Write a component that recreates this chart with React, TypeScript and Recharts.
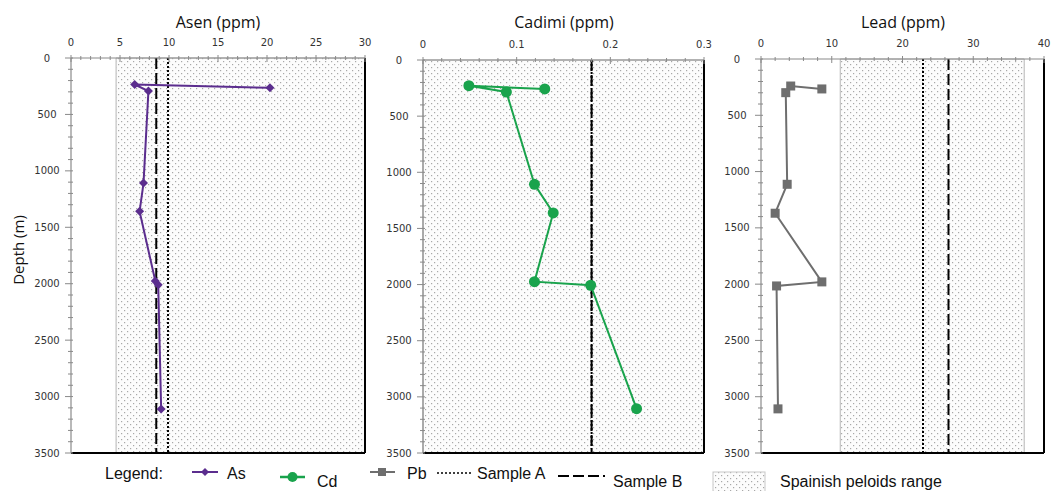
import React from 'react';
import { LineChart, Line, XAxis, YAxis, ReferenceLine, ReferenceArea } from 'recharts';

// ---- data ----
const depthTicks = [0, 500, 1000, 1500, 2000, 2500, 3000, 3500];
const depthLabels = ['0', '500', '1000', '1500', '2000', '2500', '3000', '3500'];

const asTicks = [0, 5, 10, 15, 20, 25, 30];
const asTickLabels = ['0', '5', '10', '15', '20', '25', '30'];
const cdTicks = [0, 0.1, 0.2, 0.3];
const cdTickLabels = ['0', '0.1', '0.2', '0.3'];
const pbTicks = [0, 10, 20, 30, 40];
const pbTickLabels = ['0', '10', '20', '30', '40'];

const asDepth = [264, 235, 293, 1108, 1359, 1975, 2010, 3110];
const asValue = [20.3, 6.5, 7.9, 7.4, 7.0, 8.6, 8.9, 9.2];
const cdDepth = [258, 229, 285, 1107, 1362, 1974, 2006, 3105];
const cdValue = [0.13, 0.049, 0.089, 0.119, 0.139, 0.119, 0.179, 0.228];
const pbDepth = [266, 240, 299, 1113, 1370, 1980, 2016, 3108];
const pbValue = [8.6, 4.2, 3.5, 3.7, 2.0, 8.6, 2.2, 2.4];

const asRange = [4.6, 30];
const cdRange = [0, 0.3];
const pbRange = [11.2, 37.2];

const asSampleA = 9.9;
const asSampleB = 8.7;
const cdSampleA = 0.18;
const cdSampleB = 0.18;
const pbSampleA = 22.9;
const pbSampleB = 26.5;

const COLORS = { as: '#5b2d8e', cd: '#19a34c', pb: '#6e6e6e' };

const minorTicks = (max: number, step: number) => {
  const out: number[] = [];
  const n = Math.round(max / step);
  for (let i = 0; i <= n; i++) out.push(Math.round(i * step * 1e6) / 1e6);
  return out;
};

const findMajor = (majors: number[], v: number) => majors.findIndex((m) => Math.abs(m - v) < 1e-6);

const XTick = (props: any) => {
  const { x, y, payload, majors, labels } = props;
  const idx = findMajor(majors, payload.value);
  const major = idx >= 0;
  return (
    <g>
      <line x1={x} x2={x} y1={major ? y - 3 : y - 2} y2={major ? y + 4 : y + 2} stroke="#8a8a8a" strokeWidth={1} />
      {major && (
        <text x={x} y={y - 12} textAnchor="middle" fontSize={10} fontFamily="DejaVu Sans" fill="#333">
          {labels[idx]}
        </text>
      )}
    </g>
  );
};

const YTick = (props: any) => {
  const { x, y, payload } = props;
  const idx = findMajor(depthTicks, payload.value);
  const major = idx >= 0;
  return (
    <g>
      <line x1={major ? x - 6 : x - 3} x2={x + 2} y1={y} y2={y} stroke="#8a8a8a" strokeWidth={1} />
      {major && (
        <text x={x - 24} y={y + 3.5} textAnchor="middle" fontSize={10} fontFamily="DejaVu Sans" fill="#333">
          {depthLabels[idx]}
        </text>
      )}
    </g>
  );
};

const Diamond = (p: any) => {
  const { cx, cy } = p;
  if (cx == null || cy == null) return <g key={p.index} />;
  const r = 4.5;
  return <polygon key={p.index} points={`${cx},${cy - r} ${cx + r},${cy} ${cx},${cy + r} ${cx - r},${cy}`} fill={COLORS.as} />;
};
const Circle = (p: any) => {
  const { cx, cy } = p;
  if (cx == null || cy == null) return <g key={p.index} />;
  return <circle key={p.index} cx={cx} cy={cy} r={5.5} fill={COLORS.cd} />;
};
const Square = (p: any) => {
  const { cx, cy } = p;
  if (cx == null || cy == null) return <g key={p.index} />;
  return <rect key={p.index} x={cx - 4.5} y={cy - 4.5} width={9} height={9} fill={COLORS.pb} />;
};

type PanelProps = {
  left: number;
  width: number;
  axisHeight: number;
  rightMargin: number;
  depth: number[];
  values: number[];
  max: number;
  minorStep: number;
  majors: number[];
  labels: string[];
  range: number[];
  sampleA: number;
  sampleB: number;
  color: string;
  dot: any;
};

const Panel = (p: PanelProps) => {
  const data = p.depth.map((d, i) => ({ depth: d, v: p.values[i] }));
  const xt = minorTicks(p.max, p.minorStep);
  const yt = minorTicks(3500, 100);
  return (
    <div style={{ position: 'absolute', left: p.left, top: 0 }}>
      <LineChart
        width={p.width}
        height={461}
        layout="vertical"
        data={data}
        margin={{ top: 0, right: p.rightMargin, bottom: 8, left: 0 }}
      >
        <XAxis
          type="number"
          orientation="top"
          domain={[0, p.max]}
          allowDataOverflow
          ticks={xt}
          interval={0}
          height={p.axisHeight}
          tickSize={0}
          tickMargin={0}
          tickLine={false}
          axisLine={{ stroke: '#8a8a8a', strokeWidth: 1.2 }}
          tick={(tp: any) => <XTick {...tp} majors={p.majors} labels={p.labels} />}
        />
        <YAxis
          type="number"
          dataKey="depth"
          domain={[0, 3500]}
          allowDataOverflow
          ticks={yt}
          interval={0}
          width={71}
          tickSize={0}
          tickMargin={0}
          tickLine={false}
          axisLine={{ stroke: '#8a8a8a', strokeWidth: 1.2 }}
          tick={(tp: any) => <YTick {...tp} />}
        />
        <ReferenceArea
          x1={p.range[0]}
          x2={p.range[1]}
          y1={0}
          y2={3500}
          fill="url(#peloidDots)"
          fillOpacity={1}
          stroke="#b5b5b5"
          strokeWidth={1}
        />
        <ReferenceLine x={p.sampleA} stroke="#000" strokeWidth={2} strokeDasharray="2 2" />
        <ReferenceLine x={p.sampleB} stroke="#000" strokeWidth={2} strokeDasharray="11 4" />
        <ReferenceLine x={p.max} stroke="#000" strokeWidth={2} />
        <ReferenceLine y={3500} stroke="#000" strokeWidth={2} />
        <Line
          dataKey="v"
          stroke={p.color}
          strokeWidth={2}
          dot={p.dot}
          activeDot={false}
          isAnimationActive={false}
        />
      </LineChart>
    </div>
  );
};

export default function App() {
  const font = "'Open Sans', 'DejaVu Sans', sans-serif";
  const legendFont = "'Liberation Sans', Arial, sans-serif";
  return (
    <div style={{ position: 'absolute', left: 0, top: 0, width: 1051, height: 491, background: '#fff', overflow: 'hidden' }}>
      <svg width={0} height={0} style={{ position: 'absolute' }}>
        <defs>
          <pattern id="peloidDots" x={0} y={0} width={6} height={6} patternUnits="userSpaceOnUse">
            <rect x={0} y={0} width={6} height={6} fill="#fcfcfc" />
            <rect x={1} y={1} width={1.2} height={1.2} fill="#a8a8a8" />
            <rect x={4} y={4} width={1.2} height={1.2} fill="#a8a8a8" />
          </pattern>
        </defs>
      </svg>
      <Panel
        left={0}
        width={380}
        axisHeight={58}
        rightMargin={15}
        depth={asDepth}
        values={asValue}
        max={30}
        minorStep={1}
        majors={asTicks}
        labels={asTickLabels}
        range={asRange}
        sampleA={asSampleA}
        sampleB={asSampleB}
        color={COLORS.as}
        dot={Diamond}
      />
      <Panel
        left={352}
        width={367}
        axisHeight={60}
        rightMargin={15}
        depth={cdDepth}
        values={cdValue}
        max={0.3}
        minorStep={0.02}
        majors={cdTicks}
        labels={cdTickLabels}
        range={cdRange}
        sampleA={cdSampleA}
        sampleB={cdSampleB}
        color={COLORS.cd}
        dot={Circle}
      />
      <Panel
        left={690}
        width={361}
        axisHeight={59}
        rightMargin={7}
        depth={pbDepth}
        values={pbValue}
        max={40}
        minorStep={2}
        majors={pbTicks}
        labels={pbTickLabels}
        range={pbRange}
        sampleA={pbSampleA}
        sampleB={pbSampleB}
        color={COLORS.pb}
        dot={Square}
      />
      <svg width={1051} height={491} style={{ position: 'absolute', left: 0, top: 0, pointerEvents: 'none' }}>
        <text x={218} y={28} textAnchor="middle" fontSize={16} fontFamily={font} fill="#111">Asen (ppm)</text>
        <text x={564} y={28} textAnchor="middle" fontSize={16} fontFamily={font} fill="#111">Cadimi (ppm)</text>
        <text x={903} y={28} textAnchor="middle" fontSize={16} fontFamily={font} fill="#111">Lead (ppm)</text>
        <text
          x={0}
          y={0}
          transform="translate(24,250) rotate(-90)"
          textAnchor="middle"
          fontSize={15}
          fontFamily={font}
          fill="#111"
        >
          Depth (m)
        </text>

        <g fontFamily={legendFont} fontSize={16} fill="#111">
          <text x={105} y={479}>Legend:</text>
          <line x1={192} x2={218} y1={472} y2={472} stroke={COLORS.as} strokeWidth={2} />
          <polygon points="205,468 209,472 205,476 201,472" fill={COLORS.as} />
          <text x={227} y={479}>As</text>

          <line x1={280} x2={305} y1={477} y2={477} stroke={COLORS.cd} strokeWidth={2.5} />
          <circle cx={292.5} cy={477} r={5} fill={COLORS.cd} />
          <text x={317} y={487}>Cd</text>

          <line x1={370} x2={395} y1={472} y2={472} stroke={COLORS.pb} strokeWidth={2} />
          <rect x={378} y={468} width={8} height={8} fill={COLORS.pb} />
          <text x={407} y={479}>Pb</text>

          <line x1={437} x2={472} y1={473} y2={473} stroke="#000" strokeWidth={1.5} strokeDasharray="2 2" />
          <text x={477} y={479}>Sample A</text>

          <line x1={558} x2={605} y1={476} y2={476} stroke="#000" strokeWidth={2} strokeDasharray="11 4" />
          <text x={613} y={487}>Sample B</text>

          <rect x={713} y={472} width={52} height={20} fill="url(#peloidDots)" stroke="#c8c8c8" strokeWidth={1} />
          <text x={780} y={487}>Spainish peloids range</text>
        </g>
      </svg>
    </div>
  );
}
